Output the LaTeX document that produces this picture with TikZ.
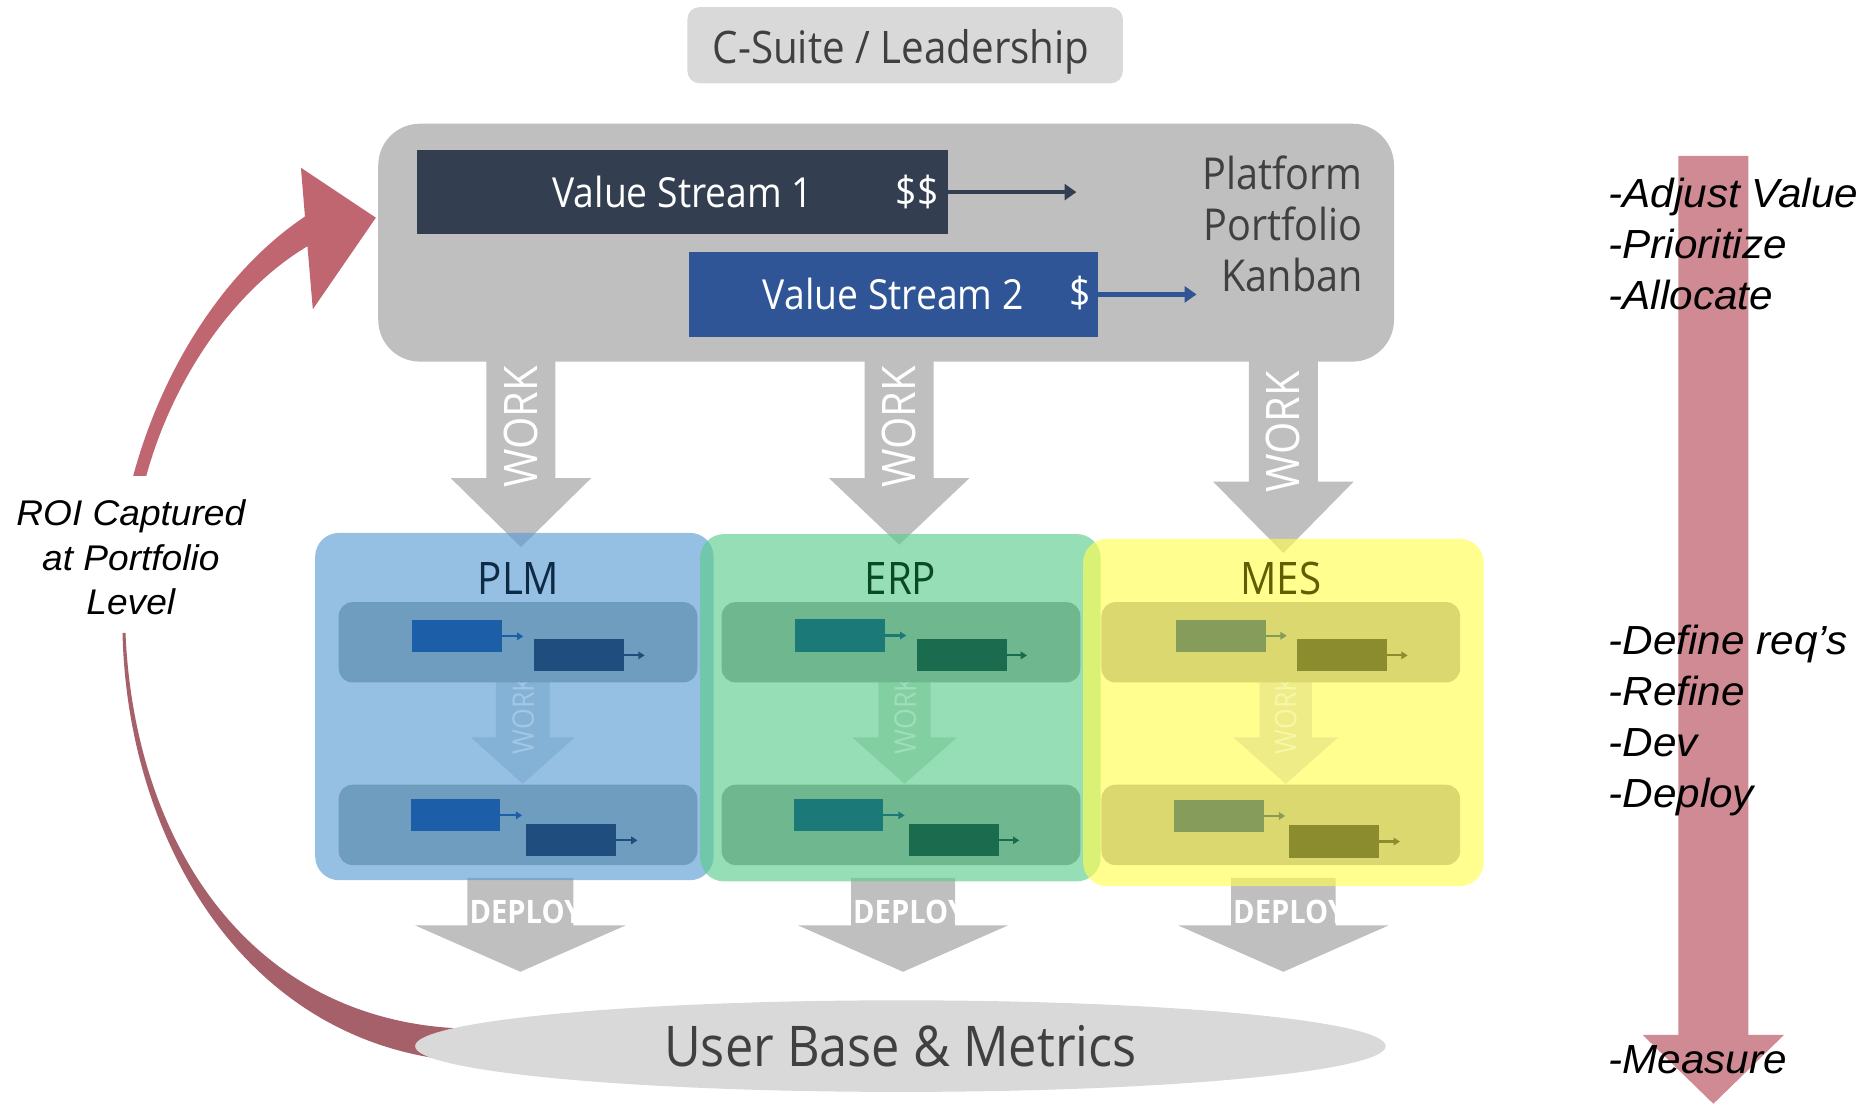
\documentclass[tikz,border=0pt]{standalone}
\usepackage{fontspec}
\setmainfont{Open Sans}[FakeStretch=0.9]
\newfontfamily\lsans{Liberation Sans}[FakeStretch=1.04]
\usetikzlibrary{arrows.meta,shapes.geometric}
\definecolor{csgray}{HTML}{D9D9D9}
\definecolor{txtgray}{HTML}{404040}
\definecolor{platgray}{HTML}{BFBFBF}
\definecolor{vsone}{HTML}{333F50}
\definecolor{vstwo}{HTML}{2F5597}
\definecolor{plmc}{HTML}{5B9BD5}
\definecolor{erpc}{HTML}{5BCD8D}
\definecolor{mesc}{HTML}{FFFD50}
\definecolor{plmt}{HTML}{0D2B45}
\definecolor{erpt}{HTML}{0A4A23}
\definecolor{mest}{HTML}{5F5F00}
\definecolor{plmband}{HTML}{6F9DC0}
\definecolor{erpband}{HTML}{6FB78F}
\definecolor{mesband}{HTML}{DBD870}
\definecolor{plmia}{HTML}{84B2D6}
\definecolor{erpia}{HTML}{82CFA2}
\definecolor{mesia}{HTML}{EEEC86}
\definecolor{plmit}{HTML}{A3C6E3}
\definecolor{erpit}{HTML}{A0DDB9}
\definecolor{mesit}{HTML}{F8F6A8}
\definecolor{plmA}{HTML}{1C5FA8}
\definecolor{plmB}{HTML}{1F4E7E}
\definecolor{erpA}{HTML}{1B7A78}
\definecolor{erpB}{HTML}{1B6B4F}
\definecolor{mesA}{HTML}{869C5A}
\definecolor{mesB}{HTML}{8A8C2E}
\definecolor{roiup}{HTML}{C06670}
\definecolor{roilow}{HTML}{A6606A}
\definecolor{rightred}{HTML}{D08A94}
\newcommand{\blkarrow}[7]{%
  \fill[#7] ({#1-(#3)/2},#2) -- ({#1+(#3)/2},#2) -- ({#1+(#3)/2},#4) -- ({#1+(#5)/2},#4) -- (#1,#6) -- ({#1-(#5)/2},#4) -- ({#1-(#3)/2},#4) -- cycle;}
\newcommand{\kbar}[5]{%
  \node[minibar, fill=#4] (#1) at (#2,#3) {};
  \coordinate (#1e) at (#5,#3);
  \draw[miniarrow, draw=#4, fill=#4] (#1.east) -- (#1e);}
\begin{document}
\begin{tikzpicture}[x=0.6pt,y=-0.6pt,
  minibar/.style={rectangle, inner sep=0, outer sep=0, minimum width=45.3pt, minimum height=16.2pt},
  miniarrow/.style={line width=1.1pt, -{Triangle[length=3.2pt,width=3.8pt]}},
  band/.style={rectangle, rounded corners=7pt, inner sep=0, minimum width=180.9pt, minimum height=40.5pt},
  sysbox/.style={rectangle, rounded corners=12pt, inner sep=0, fill opacity=0.64, minimum width=202pt, minimum height=175.2pt},
  bigwork/.style={rotate=90, text=white, font=\fontsize{23.3}{26}\selectfont, inner sep=0},
  smallwork/.style={rotate=90, font=\fontsize{15}{18}\selectfont, inner sep=0},
  deploytxt/.style={anchor=west, inner sep=0, text=white, font=\bfseries\fontsize{16.3}{19}\selectfont},
  systitle/.style={font=\fontsize{22.6}{26}\selectfont, inner sep=0},
  vstxt/.style={text=white, inner sep=0, font=\fontsize{20.9}{24}\selectfont},
  steps/.style={anchor=west, align=left, inner sep=0, font=\lsans\itshape\fontsize{20.5}{25.8}\selectfont},
  vsarrow/.style={line width=2.4pt, -{Triangle[length=6pt,width=8pt]}}
]
\useasboundingbox (0,0) rectangle (1568,928);

% ---- ROI loop arrow (left)
\fill[roiup] (112,400) .. controls (135,315) and (185,230) .. (256.4,182) -- (253,141) -- (316,183) -- (263,260) -- (258.5,207) .. controls (195,245) and (145,320) .. (123,400) -- cycle;
\fill[roilow] (103,532) .. controls (107,710) and (210,885) .. (400,893) -- (400,865) .. controls (212,864) and (113,710) .. (105.5,532) -- cycle;

% ---- right measure arrow
\blkarrow{1440.5}{131}{59}{870}{119}{928}{fill=rightred}

% ---- big WORK arrows
\blkarrow{438}{300}{58}{402}{118}{460}{fill=platgray}
\blkarrow{756}{300}{58}{402}{118}{458}{fill=platgray}
\blkarrow{1079}{300}{58}{405}{118}{465}{fill=platgray}
\node[bigwork] (work1) at (438,359) {WORK};
\node[bigwork] (work2) at (756,359) {WORK};
\node[bigwork] (work3) at (1079,363) {WORK};

% ---- DEPLOY arrows
\blkarrow{437.5}{738}{89}{778}{177}{817}{fill=platgray}
\blkarrow{759.25}{738}{87.5}{778}{176.5}{817}{fill=platgray}
\blkarrow{1079}{738}{88}{778}{177}{817}{fill=platgray}
\begin{scope}
  \clip (393,738) rectangle (482,778);
  \node[deploytxt] (dep1) at (394.5,767) {DEPLOY};
\end{scope}
\begin{scope}
  \clip (715.5,738) rectangle (803,778);
  \node[deploytxt] (dep2) at (717,767) {DEPLOY};
\end{scope}
\begin{scope}
  \clip (1035,738) rectangle (1123,778);
  \node[deploytxt] (dep3) at (1036.5,767) {DEPLOY};
\end{scope}

% ---- C-suite
\node[rectangle, rounded corners=6pt, fill=csgray, inner sep=0, minimum width=219.6pt, minimum height=38.4pt] (csuite) at (761,38) {};
\node[anchor=base, inner sep=0, text=txtgray, font=\fontsize{22.6}{26}\selectfont] (cstext) at (757.5,53) {C-Suite / Leadership};

% ---- Platform portfolio kanban
\node[rectangle, rounded corners=21pt, fill=platgray, inner sep=0, minimum width=512.4pt, minimum height=120pt] (platform) at (745,204) {};
\node[rectangle, fill=vsone, inner sep=0, minimum width=267.6pt, minimum height=42.6pt, vstxt] (vs1) at (574,161.5) {Value Stream 1};
\node[vstxt] (d1) at (771,161) {\$\$};
\coordinate (vs1end) at (905,161.5);
\draw[vsarrow, draw=vsone, fill=vsone] (vs1.east) -- (vs1end);
\node[rectangle, fill=vstwo, inner sep=0, minimum width=206.4pt, minimum height=42.6pt, vstxt] (vs2) at (751,247.5) {Value Stream 2};
\node[vstxt] (d2) at (908,246) {\$};
\coordinate (vs2end) at (1006,247.5);
\draw[vsarrow, draw=vstwo, fill=vstwo] (vs2.east) -- (vs2end);
\node[anchor=east, align=right, inner sep=0, text=txtgray, font=\fontsize{22.2}{25.8}\selectfont] (pfk) at (1146,188) {Platform\\Portfolio\\Kanban};

% ---- system boxes
\node[sysbox, fill=plmc, minimum width=201pt] (plmbox) at (432.5,594) {};
\node[sysbox, fill=erpc] (erpbox) at (757,595) {};
\node[sysbox, fill=mesc] (mesbox) at (1079,599) {};
\node[systitle, text=plmt] (plmt) at (436,486) {PLM};
\node[systitle, text=erpt] (erpt) at (757,486) {ERP};
\node[systitle, text=mest] (mest) at (1077,486) {MES};

% ---- inner WORK arrows
\blkarrow{439.5}{570}{45}{620}{87}{659}{fill=plmia}
\blkarrow{760.5}{570}{44}{620}{88}{659}{fill=erpia}
\blkarrow{1081}{570}{44}{620}{88}{659}{fill=mesia}
\node[smallwork, text=plmit] (iw1) at (440,601) {WORK};
\node[smallwork, text=erpit] (iw2) at (761,601) {WORK};
\node[smallwork, text=mesit] (iw3) at (1081,601) {WORK};

% ---- bands
\node[band, fill=plmband] (plmb1) at (435.5,540) {};
\node[band, fill=plmband] (plmb2) at (435.5,693.5) {};
\node[band, fill=erpband] (erpb1) at (757.5,540) {};
\node[band, fill=erpband] (erpb2) at (757.5,693.5) {};
\node[band, fill=mesband] (mesb1) at (1076.8,540) {};
\node[band, fill=mesband] (mesb2) at (1076.8,693.5) {};

% ---- mini value streams
\kbar{pa1}{384}{535}{plmA}{440}
\kbar{pb1}{486.8}{551}{plmB}{542}
\kbar{pa2}{383}{685.5}{plmA}{439}
\kbar{pb2}{480}{706.5}{plmB}{536}
\kbar{ea1}{706}{534.3}{erpA}{762}
\kbar{eb1}{808.5}{551}{erpB}{863.5}
\kbar{ea2}{705}{685.5}{erpA}{760.6}
\kbar{eb2}{802}{706.5}{erpB}{857}
\kbar{ma1}{1026.5}{534.5}{mesA}{1081.8}
\kbar{mb1}{1128.3}{551}{mesB}{1183.5}
\kbar{ma2}{1025}{686}{mesA}{1080.5}
\kbar{mb2}{1121.6}{707.5}{mesB}{1177}

% ---- user base ellipse
\node[ellipse, fill=csgray, inner sep=0, minimum width=489.6pt, minimum height=46.2pt, text=txtgray, font=\fontsize{28.3}{32}\selectfont] (users) at (757,879.5) {User Base \& Metrics};

% ---- labels
\node[align=center, inner sep=0, font=\lsans\itshape\fontsize{18}{22.5}\selectfont] (roi) at (110,468.5) {ROI Captured\\at Portfolio\\Level};
\node[steps] (steps1) at (1352,205) {-Adjust Value\\-Prioritize\\-Allocate};
\node[steps] (steps2) at (1352,605.5) {-Define req’s\\-Refine\\-Dev\\-Deploy};
\node[steps] (steps3) at (1352,891) {-Measure};
\end{tikzpicture}
\end{document}
